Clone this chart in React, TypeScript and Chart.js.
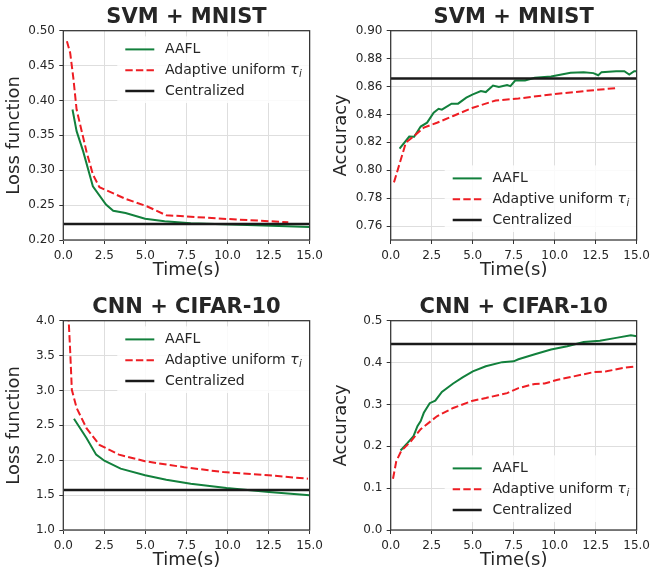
import React, { useEffect, useRef } from 'react';
import { Chart, registerables } from 'chart.js';

Chart.register(...registerables);

// ---------- data ----------
const xTickValues = [0, 2.5, 5, 7.5, 10, 12.5, 15];
const svmLossTicks = [0.2, 0.25, 0.3, 0.35, 0.4, 0.45, 0.5];
const svmAccTicks = [0.76, 0.78, 0.8, 0.82, 0.84, 0.86, 0.88, 0.9];
const cnnLossTicks = [1.0, 1.5, 2.0, 2.5, 3.0, 3.5, 4.0];
const cnnAccTicks = [0.0, 0.1, 0.2, 0.3, 0.4, 0.5];

const seriesNames = ['AAFL', 'Adaptive uniform τᵢ', 'Centralized'];
const panelTitles = ['SVM + MNIST', 'SVM + MNIST', 'CNN + CIFAR-10', 'CNN + CIFAR-10'];
const yAxisTitles = ['Loss function', 'Accuracy', 'Loss function', 'Accuracy'];
const xAxisTitle = 'Time(s)';
const centralTime = [0, 15];

// SVM + MNIST, loss
const svmLossAaflTime = [0.56, 0.81, 1.21, 1.8, 2.6, 3.04, 3.79, 4.98, 6.17, 7.76, 11.7, 15];
const svmLossAaflValue = [0.387, 0.356, 0.327, 0.277, 0.2507, 0.242, 0.2388, 0.2306, 0.2268, 0.224, 0.2211, 0.2187];
const svmLossAdaptTime = [0.22, 0.42, 0.61, 0.81, 1.41, 1.8, 2.2, 3.79, 5.08, 6.27, 9.96, 13.7];
const svmLossAdaptValue = [0.485, 0.468, 0.4325, 0.387, 0.327, 0.294, 0.2756, 0.259, 0.2484, 0.2355, 0.2302, 0.2255];
const svmLossCentral = 0.223;

// SVM + MNIST, accuracy
const svmAccAaflTime = [0.54, 1.13, 1.43, 1.83, 2.22, 2.62, 2.92, 3.12, 3.71, 4.11, 4.61, 5.01, 5.5, 5.8, 6.24, 6.6, 7.1, 7.3, 7.59, 8.19, 8.79, 9.78, 10.97, 11.77, 12.36, 12.66, 12.86, 13.75, 14.25, 14.55, 14.85, 15];
const svmAccAaflValue = [0.8155, 0.8241, 0.824, 0.8313, 0.8341, 0.8412, 0.844, 0.8434, 0.8477, 0.8477, 0.852, 0.8544, 0.8567, 0.856, 0.8607, 0.8596, 0.861, 0.8603, 0.8643, 0.8643, 0.8662, 0.8672, 0.8698, 0.8703, 0.8696, 0.8681, 0.8703, 0.871, 0.871, 0.8686, 0.871, 0.871];
const svmAccAdaptTime = [0.2, 0.93, 1.43, 2.02, 2.82, 3.81, 5.01, 6.4, 7.79, 9.78, 11.77, 13.76];
const svmAccAdaptValue = [0.7913, 0.8199, 0.8246, 0.8305, 0.834, 0.8389, 0.8448, 0.85, 0.8514, 0.8543, 0.8567, 0.8589];
const svmAccCentral = 0.8657;

// CNN + CIFAR-10, loss
const cnnLossAaflTime = [0.65, 1.41, 2.0, 2.5, 3.49, 4.98, 6.27, 7.76, 9.94, 12.52, 15];
const cnnLossAaflValue = [2.595, 2.32, 2.08, 1.993, 1.879, 1.784, 1.721, 1.664, 1.602, 1.545, 1.498];
const cnnLossAdaptTime = [0.25, 0.32, 0.42, 0.52, 0.81, 1.41, 2.2, 3.39, 4.98, 7.36, 9.74, 12.52, 14.9];
const cnnLossAdaptValue = [4.4, 4.04, 3.56, 3.01, 2.75, 2.46, 2.22, 2.08, 1.985, 1.9, 1.83, 1.784, 1.735];
const cnnLossCentral = 1.573;

// CNN + CIFAR-10, accuracy
const cnnAccAaflTime = [0.6, 1.03, 1.39, 1.63, 1.83, 2.02, 2.38, 2.72, 3.12, 3.81, 4.41, 5.01, 5.8, 6.8, 7.5, 7.79, 8.79, 9.78, 10.77, 11.77, 12.76, 13.75, 14.65, 15];
const cnnAccAaflValue = [0.19, 0.208, 0.224, 0.248, 0.26, 0.28, 0.303, 0.309, 0.33, 0.35, 0.365, 0.379, 0.391, 0.401, 0.403, 0.408, 0.42, 0.431, 0.439, 0.449, 0.452, 0.459, 0.465, 0.463];
const cnnAccAdaptTime = [0.14, 0.34, 0.63, 1.23, 1.83, 2.82, 3.81, 5.01, 5.8, 7.1, 7.79, 8.79, 9.39, 10.18, 11.17, 12.36, 13.16, 14.15, 15];
const cnnAccAdaptValue = [0.1225, 0.164, 0.188, 0.212, 0.241, 0.2716, 0.2915, 0.309, 0.3153, 0.327, 0.339, 0.349, 0.35, 0.359, 0.367, 0.377, 0.379, 0.387, 0.391];
const cnnAccCentral = 0.4443;

// ---------- styling ----------
const FONT = '"DejaVu Sans", "Noto Sans", sans-serif';
const TEXT = '#262626';
const GREEN = '#12803c';
const RED = '#ee1d23';
const BLACK = '#1a1a1a';
const GRID = '#dedede';
const SPINE = '#333333';

type PanelSpec = {
  left: number;
  top: number;
  titleIdx: number;
  yMin: number;
  yMax: number;
  yTicks: number[];
  yDigits: number;
  yAxisWidth: number;
  legendTop: number;
  aaflTime: number[];
  aaflValue: number[];
  adaptTime: number[];
  adaptValue: number[];
  central: number;
};

const panels: PanelSpec[] = [
  { left: 0, top: 0, titleIdx: 0, yMin: 0.2, yMax: 0.5, yTicks: svmLossTicks, yDigits: 2, yAxisWidth: 63.3, legendTop: 18.7,
    aaflTime: svmLossAaflTime, aaflValue: svmLossAaflValue, adaptTime: svmLossAdaptTime, adaptValue: svmLossAdaptValue, central: svmLossCentral },
  { left: 327, top: 0, titleIdx: 1, yMin: 0.75, yMax: 0.9, yTicks: svmAccTicks, yDigits: 2, yAxisWidth: 63.7, legendTop: 147.7,
    aaflTime: svmAccAaflTime, aaflValue: svmAccAaflValue, adaptTime: svmAccAdaptTime, adaptValue: svmAccAdaptValue, central: svmAccCentral },
  { left: 0, top: 290, titleIdx: 2, yMin: 1.0, yMax: 4.0, yTicks: cnnLossTicks, yDigits: 1, yAxisWidth: 63.3, legendTop: 18.7,
    aaflTime: cnnLossAaflTime, aaflValue: cnnLossAaflValue, adaptTime: cnnLossAdaptTime, adaptValue: cnnLossAdaptValue, central: cnnLossCentral },
  { left: 327, top: 290, titleIdx: 3, yMin: 0.0, yMax: 0.5, yTicks: cnnAccTicks, yDigits: 1, yAxisWidth: 63.7, legendTop: 147.7,
    aaflTime: cnnAccAaflTime, aaflValue: cnnAccAaflValue, adaptTime: cnnAccAdaptTime, adaptValue: cnnAccAdaptValue, central: cnnAccCentral },
];

const CANVAS_W = 328;
const CANVAS_H = 285;

function toPoints(xs: number[], ys: number[]) {
  return xs.map((x, i) => ({ x, y: ys[i] }));
}

function Panel({ spec }: { spec: PanelSpec }) {
  const ref = useRef<HTMLCanvasElement | null>(null);

  useEffect(() => {
    const canvas = ref.current;
    if (!canvas) return;

    const legendPlugin = {
      id: 'panelLegend',
      afterDatasetsDraw(chart: any) {
        const ctx = chart.ctx as CanvasRenderingContext2D;
        const a = chart.chartArea;
        const x0 = a.left + 62;
        const x1 = a.left + 91;
        const tx = a.left + 101.7;
        const rowGap = 20.8;
        const rows = [0, 1, 2].map((i) => a.top + spec.legendTop + i * rowGap);
        const mainFont = `14px ${FONT}`;
        const italicFont = `italic 14px ${FONT}`;
        const subFont = `italic 10px ${FONT}`;
        ctx.save();
        // measure widths
        let maxW = 0;
        const items = chart.data.datasets.map((ds: any) => {
          let text = ds.label as string;
          let greek = '';
          let sub = '';
          if (text.endsWith('τᵢ')) {
            text = text.slice(0, -2);
            greek = 'τ';
            sub = 'i';
          }
          ctx.font = mainFont;
          let w = ctx.measureText(text).width;
          let gw = 0;
          if (greek) {
            ctx.font = italicFont;
            gw = ctx.measureText(greek).width;
            ctx.font = subFont;
            w += gw + 1 + ctx.measureText(sub).width;
          }
          maxW = Math.max(maxW, w);
          return { ds, text, greek, sub, gw };
        });
        ctx.fillStyle = 'rgba(255,255,255,0.85)';
        const bx = x0 - 8;
        const by = rows[0] - 13;
        ctx.fillRect(bx, by, tx + maxW + 8 - bx, rows[2] + 12 - by);

        items.forEach((it: any, i: number) => {
          const y = rows[i];
          ctx.save();
          ctx.strokeStyle = it.ds.borderColor;
          ctx.lineWidth = it.ds.borderWidth;
          ctx.setLineDash(it.ds.borderDash || []);
          ctx.beginPath();
          ctx.moveTo(x0, y);
          ctx.lineTo(x1, y);
          ctx.stroke();
          ctx.restore();
          ctx.fillStyle = TEXT;
          ctx.textBaseline = 'middle';
          ctx.textAlign = 'left';
          ctx.font = mainFont;
          ctx.fillText(it.text, tx, y);
          if (it.greek) {
            const w0 = ctx.measureText(it.text).width;
            ctx.font = italicFont;
            ctx.fillText(it.greek, tx + w0, y);
            ctx.font = subFont;
            ctx.fillText(it.sub, tx + w0 + it.gw + 0.5, y + 4);
          }
        });
        ctx.restore();
      },
    };

    const framePlugin = {
      id: 'panelFrame',
      afterDraw(chart: any) {
        const ctx = chart.ctx as CanvasRenderingContext2D;
        const a = chart.chartArea;
        ctx.save();
        ctx.strokeStyle = SPINE;
        ctx.lineWidth = 1.25;
        ctx.strokeRect(a.left, a.top, a.right - a.left, a.bottom - a.top);
        ctx.restore();
      },
    };

    const chart = new Chart(canvas, {
      type: 'line',
      data: {
        datasets: [
          {
            label: seriesNames[0],
            data: toPoints(spec.aaflTime, spec.aaflValue),
            borderColor: GREEN,
            backgroundColor: GREEN,
            borderWidth: 2,
            pointRadius: 0,
            tension: 0,
            fill: false,
            order: 2,
          },
          {
            label: seriesNames[1],
            data: toPoints(spec.adaptTime, spec.adaptValue),
            borderColor: RED,
            backgroundColor: RED,
            borderWidth: 2,
            borderDash: [7.4, 3.2],
            pointRadius: 0,
            tension: 0,
            fill: false,
            order: 1,
          },
          {
            label: seriesNames[2],
            data: toPoints(centralTime, [spec.central, spec.central]),
            borderColor: BLACK,
            backgroundColor: BLACK,
            borderWidth: 2.5,
            pointRadius: 0,
            tension: 0,
            fill: false,
            order: 0,
          },
        ],
      },
      options: {
        responsive: false,
        animation: false,
        events: [],
        layout: { padding: { left: 0, right: 13, top: 0, bottom: 0 } },
        plugins: {
          legend: { display: false },
          tooltip: { enabled: false },
          title: {
            display: true,
            text: panelTitles[spec.titleIdx],
            fullSize: false,
            color: TEXT,
            font: { family: FONT, size: 21, weight: 'bold' },
            padding: { top: 4.6, bottom: 0.9 },
          },
        },
        scales: {
          x: {
            type: 'linear',
            min: 0,
            max: 15,
            afterBuildTicks: (scale: any) => {
              scale.ticks = xTickValues.map((v) => ({ value: v }));
            },
            afterFit: (scale: any) => {
              scale.height = 45;
            },
            ticks: {
              color: TEXT,
              font: { family: FONT, size: 12 },
              padding: 5,
              maxRotation: 0,
              autoSkip: false,
              callback: (v: any) => Number(v).toFixed(1),
            },
            grid: { color: GRID, lineWidth: 1, tickLength: 4, tickColor: SPINE, drawTicks: true },
            border: { display: false },
            title: {
              display: true,
              text: xAxisTitle,
              color: TEXT,
              font: { family: FONT, size: 18 },
              padding: { top: 0, bottom: 4 },
            },
          },
          y: {
            type: 'linear',
            min: spec.yMin,
            max: spec.yMax,
            afterBuildTicks: (scale: any) => {
              scale.ticks = spec.yTicks.map((v) => ({ value: v }));
            },
            afterFit: (scale: any) => {
              scale.width = spec.yAxisWidth;
            },
            ticks: {
              color: TEXT,
              font: { family: FONT, size: 12 },
              padding: 4.3,
              autoSkip: false,
              callback: (v: any) => Number(v).toFixed(spec.yDigits),
            },
            grid: { color: GRID, lineWidth: 1, tickLength: 4, tickColor: SPINE, drawTicks: true },
            border: { display: false },
            title: {
              display: true,
              text: yAxisTitles[spec.titleIdx],
              color: TEXT,
              font: { family: FONT, size: 18 },
              padding: { top: 4, bottom: 0 },
            },
          },
        },
      } as any,
      plugins: [legendPlugin, framePlugin],
    });

    return () => chart.destroy();
  }, [spec]);

  return (
    <canvas
      ref={ref}
      width={CANVAS_W}
      height={CANVAS_H}
      style={{ position: 'absolute', left: spec.left, top: spec.top, width: CANVAS_W, height: CANVAS_H }}
    />
  );
}

export default function App() {
  return (
    <div style={{ position: 'absolute', left: 0, top: 0, width: 655, height: 575, background: '#ffffff', overflow: 'hidden' }}>
      {panels.map((p, i) => (
        <Panel key={i} spec={p} />
      ))}
    </div>
  );
}
